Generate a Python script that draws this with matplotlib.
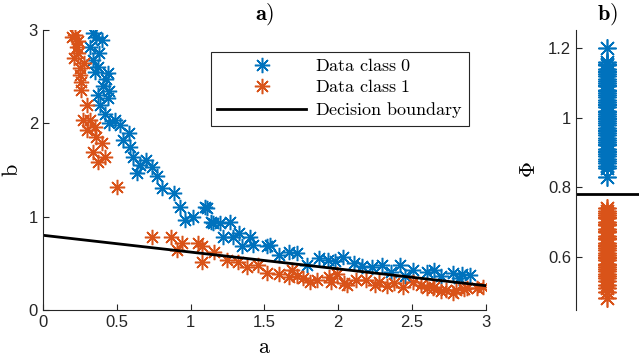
import numpy as np
import matplotlib.pyplot as plt

plt.rcParams['mathtext.fontset'] = 'cm'
plt.rcParams['font.family'] = 'Liberation Sans'

# class 0 samples (a, b)
a0 = [0.34, 0.40, 0.32, 0.36, 0.34, 0.38, 0.37, 0.35, 0.44, 0.43, 0.41, 0.37, 0.45, 0.44,
      0.39, 0.42, 0.45, 0.52, 0.58, 0.54, 0.59, 0.61, 0.70, 0.74, 0.64, 0.77, 0.81, 0.89,
      0.93, 0.96, 1.02, 1.11, 1.14, 1.20, 1.27, 1.22, 1.29, 1.33, 1.40, 1.35, 1.42, 1.52,
      1.10, 1.15, 1.54, 1.60, 1.67, 1.72, 1.79, 1.93, 2.03, 2.11, 2.23, 2.30, 2.42, 2.51,
      2.60, 2.65, 2.78, 2.84, 2.89, 2.45, 2.70, 2.82, 2.36, 2.16, 1.87, 1.98, 0.66, 0.49]
b0 = [2.97, 2.89, 2.82, 2.92, 2.68, 2.75, 2.60, 2.55, 2.54, 2.47, 2.40, 2.30, 2.34, 2.27,
      2.20, 2.10, 2.00, 1.98, 1.90, 1.82, 1.75, 1.64, 1.61, 1.53, 1.47, 1.43, 1.31, 1.25,
      1.10, 0.96, 1.00, 1.09, 0.94, 0.93, 0.94, 0.78, 0.78, 0.82, 0.78, 0.68, 0.70, 0.68,
      1.10, 0.93, 0.70, 0.59, 0.62, 0.61, 0.48, 0.54, 0.57, 0.50, 0.46, 0.48, 0.48, 0.43,
      0.41, 0.43, 0.40, 0.38, 0.37, 0.36, 0.36, 0.34, 0.41, 0.47, 0.56, 0.52, 1.55, 2.03]

# class 1 samples (a, b)
a1 = [0.22, 0.20, 0.23, 0.24, 0.25, 0.25, 0.26, 0.26, 0.30, 0.27, 0.32, 0.35, 0.30, 0.36,
      0.34, 0.42, 0.37, 0.50, 0.40, 0.28, 0.24, 0.21, 0.74, 0.87, 0.94, 0.91, 1.05, 1.08,
      1.08, 1.25, 1.32, 1.46, 1.52, 1.69, 1.67, 1.76, 1.81, 1.86, 1.94, 1.99, 2.06, 2.12,
      2.19, 2.28, 2.38, 2.51, 2.56, 2.65, 2.73, 2.80, 2.87, 2.98, 1.16, 1.38, 1.60, 2.04,
      2.33, 2.44, 2.60, 2.64, 2.78, 2.94, 2.70, 2.85, 1.95, 1.72, 2.25]
b1 = [2.95, 2.92, 2.82, 2.75, 2.59, 2.52, 2.44, 2.36, 2.20, 2.04, 2.04, 1.96, 1.93, 1.85,
      1.69, 1.64, 1.58, 1.32, 1.79, 2.65, 2.88, 2.70, 0.78, 0.78, 0.72, 0.64, 0.72, 0.68,
      0.51, 0.54, 0.51, 0.48, 0.40, 0.43, 0.35, 0.34, 0.30, 0.32, 0.35, 0.38, 0.27, 0.32,
      0.32, 0.30, 0.29, 0.30, 0.27, 0.25, 0.21, 0.21, 0.24, 0.25, 0.62, 0.46, 0.38, 0.29,
      0.26, 0.25, 0.23, 0.24, 0.18, 0.24, 0.20, 0.22, 0.30, 0.36, 0.27]

# decision boundary end points
boundary_a = [0, 3]
boundary_b = [0.80, 0.26]

# projected values
phi0 = [1.20, 1.16, 1.155, 1.15, 1.14, 1.135, 1.13, 1.125, 1.12, 1.11, 1.105, 1.10, 1.095,
        1.09, 1.08, 1.075, 1.07, 1.065, 1.06, 1.05, 1.045, 1.04, 1.035, 1.03, 1.02, 1.015,
        1.01, 1.005, 1.00, 0.995, 0.99, 0.985, 0.98, 0.97, 0.965, 0.96, 0.955, 0.95, 0.94,
        0.935, 0.93, 0.925, 0.92, 0.91, 0.905, 0.90, 0.895, 0.89, 0.88, 0.875, 0.87, 0.86,
        0.855, 0.83]
phi1 = [0.74, 0.73, 0.725, 0.72, 0.715, 0.71, 0.70, 0.695, 0.69, 0.68, 0.675, 0.67, 0.66,
        0.655, 0.65, 0.64, 0.635, 0.63, 0.625, 0.62, 0.61, 0.605, 0.60, 0.595, 0.59, 0.58,
        0.575, 0.57, 0.565, 0.56, 0.55, 0.545, 0.54, 0.53, 0.52, 0.51, 0.50, 0.48]
phi_boundary = 0.78

blue = '#0072BD'
orange = '#D95319'
grey = '#262626'
ms = 11

fig = plt.figure(figsize=(6.4, 3.6), dpi=100)
ax = fig.add_axes([0.067, 0.139, 0.692, 0.778])
ax2 = fig.add_axes([0.9, 0.139, 0.098, 0.778])

ax.plot(a0, b0, ls='none', marker=(8, 2, 0), ms=ms, mew=1.1, color=blue,
        label=r'$\mathrm{Data\ class\ 0}$')
ax.plot(a1, b1, ls='none', marker=(8, 2, 0), ms=ms, mew=1.1, color=orange,
        label=r'$\mathrm{Data\ class\ 1}$')
ax.plot(boundary_a, boundary_b, color='black', lw=2, label=r'$\mathrm{Decision\ boundary}$')

ax.set_xlim(0, 3)
ax.set_ylim(0, 3)
ax.set_xticks(np.arange(0, 3.01, 0.5))
ax.set_xticklabels(['0', '0.5', '1', '1.5', '2', '2.5', '3'])
ax.set_yticks([0, 1, 2, 3])
ax.set_xlabel(r'$\mathrm{a}$', fontsize=16, labelpad=5)
ax.set_ylabel(r'$\mathrm{b}$', fontsize=16, labelpad=4)
ax.set_title(r'$\mathbf{a)}$', fontsize=16, pad=7)
leg = ax.legend(loc='upper right', bbox_to_anchor=(0.962, 0.922), fontsize=13,
                frameon=True, fancybox=False, edgecolor=grey, framealpha=1,
                borderpad=0.35, labelspacing=0.22, handlelength=4.9, handletextpad=0.5,
                borderaxespad=0)
leg.get_frame().set_linewidth(0.8)

ax2.plot([1] * len(phi0), phi0, ls='none', marker=(8, 2, 0), ms=13, mew=1.2, color=blue)
ax2.plot([1] * len(phi1), phi1, ls='none', marker=(8, 2, 0), ms=13, mew=1.2, color=orange)
ax2.axhline(phi_boundary, color='black', lw=2)
ax2.set_xlim(0, 2)
ax2.set_ylim(0.447, 1.252)
ax2.set_yticks([0.6, 0.8, 1.0, 1.2])
ax2.set_yticklabels(['0.6', '0.8', '1', '1.2'])
ax2.set_xticks([])
ax2.set_ylabel(r'$\Phi$', fontsize=16, labelpad=6)
ax2.set_title(r'$\mathbf{b)}$', fontsize=16, pad=7)

for a in (ax, ax2):
    for s in ('top', 'right'):
        a.spines[s].set_visible(False)
    a.spines['left'].set_color(grey)
    a.spines['bottom'].set_color(grey)
    a.tick_params(direction='in', colors=grey, labelsize=12, length=4)
ax2.spines['bottom'].set_visible(False)

fig.savefig('out.png', dpi=100)
